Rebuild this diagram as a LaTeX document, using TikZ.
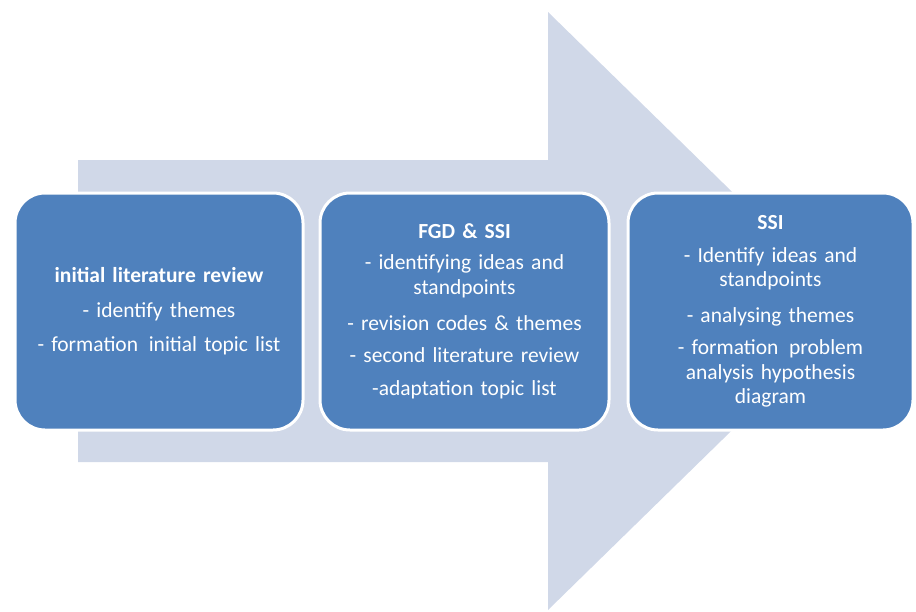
\documentclass[tikz,border=0pt]{standalone}
\usepackage{fontspec}
\setmainfont{Carlito}
\definecolor{stepblue}{HTML}{4F81BD}
\definecolor{arrowgrey}{HTML}{D0D8E8}

\begin{document}
\begin{tikzpicture}[x=1pt, y=-1pt,
  phase/.style={align=center, fill=stepblue, draw=white, line width=3pt, rounded corners=30pt,
    text=white, minimum height=237pt, inner sep=4pt, font=\fontsize{21.5}{24.5}\selectfont}]
\useasboundingbox (0,0) rectangle (916,611);

% big background arrow
\fill[arrowgrey] (78,160) -- (548,160) -- (548,12) -- (854,311) -- (548,610) -- (548,462) -- (78,462) -- cycle;

\node[phase, minimum width=288pt, text width=280pt] (lit) at (159,311.5) {\textbf{initial literature review}\\[10pt] - identify themes\\[10pt] - formation\, initial topic list};
\node[phase, minimum width=289pt, text width=280pt] (fgd) at (464.5,311.5) {\textbf{FGD \& SSI}\\[7pt] - identifying ideas and\\ standpoints\\[12pt] - revision codes \& themes\\[7pt] - second literature review\\[9pt] -adaptation topic list};
\node[phase, minimum width=285pt, text width=275pt] (ssi) at (770.5,311.5) {\textbf{SSI}\\[8pt] - Identify ideas and\\ standpoints\\[11pt] - analysing themes\\[8pt] - formation\, problem\\ analysis hypothesis\\ diagram};

\end{tikzpicture}
\end{document}
